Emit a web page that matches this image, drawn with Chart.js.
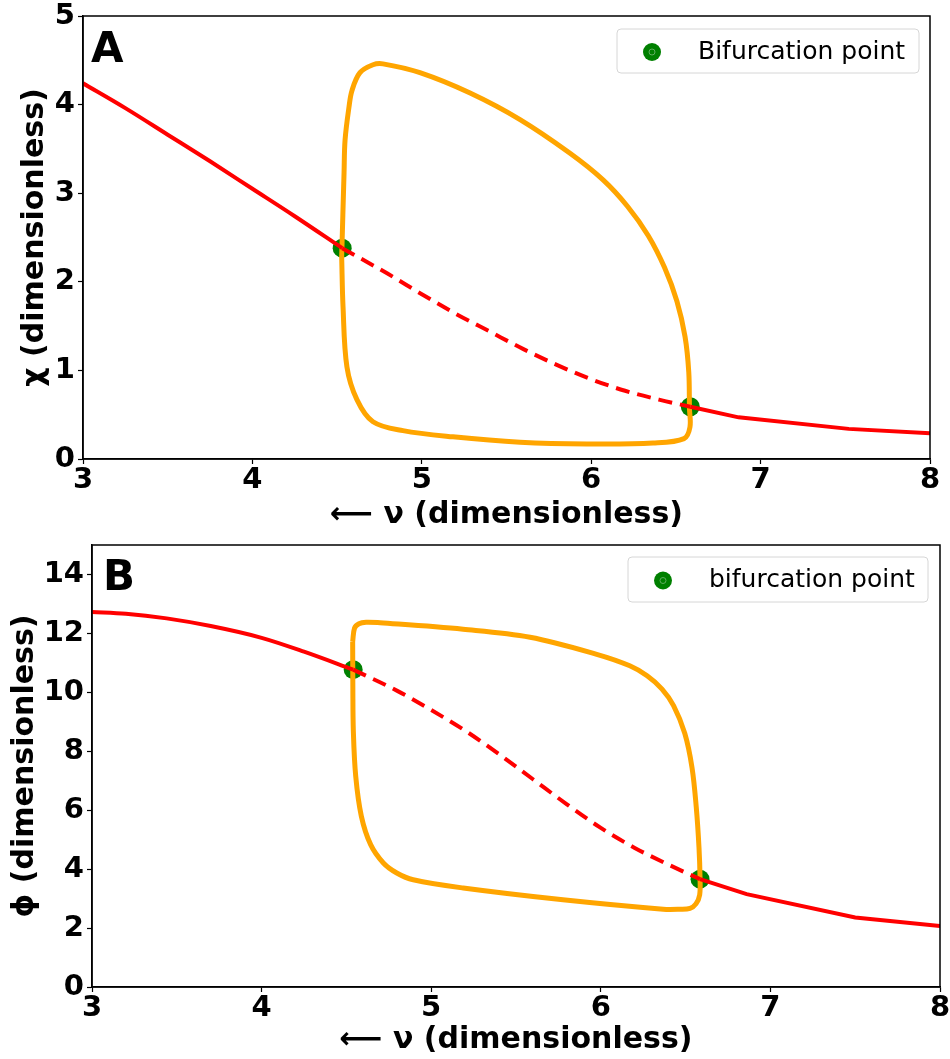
<!DOCTYPE html>
<html>
<head>
<meta charset="utf-8">
<script src="https://cdn.jsdelivr.net/npm/chart.js@4/dist/chart.umd.min.js"></script>
<style>
    html, body { margin: 0; padding: 0; background: #fff; }
    .panel { position: absolute; left: 0; width: 950px; }
    #panelA { top: 0; height: 535px; }
    #panelB { top: 535px; height: 524px; }
</style>
</head>
<body>
<div class="panel" id="panelA"><canvas id="chartA" width="950" height="535"></canvas></div>
<div class="panel" id="panelB"><canvas id="chartB" width="950" height="524"></canvas></div>
<script>
// ---- Panel A: chi vs nu ----
const chiStableLoX = [3.0, 3.25, 3.5, 3.75, 4.0, 4.25, 4.53];
const chiStableLoY = [4.24, 3.96, 3.66, 3.36, 3.05, 2.74, 2.38];
const chiUnstableX = [4.53, 4.8, 5.0, 5.2, 5.4, 5.6, 5.8, 6.0, 6.2, 6.4, 6.585];
const chiUnstableY = [2.38, 2.09, 1.86, 1.64, 1.44, 1.24, 1.06, 0.90, 0.77, 0.67, 0.59];
const chiStableHiX = [6.585, 6.87, 7.52, 8.0];
const chiStableHiY = [0.59, 0.47, 0.34, 0.29];
const chiCycleX = [4.527, 4.535, 4.558, 4.617, 4.712, 4.889, 5.184, 5.580, 5.975, 6.365, 6.548, 6.583, 6.580,
    6.576, 6.554, 6.506, 6.433, 6.337, 6.215, 6.070, 5.875, 5.580, 5.285, 4.989, 4.771, 4.712, 4.635, 4.588,
    4.570, 4.547, 4.541, 4.527];
const chiCycleY = [2.28, 1.72, 1.04, 0.67, 0.42, 0.32, 0.25, 0.19, 0.17, 0.18, 0.23, 0.36, 0.57,
    0.98, 1.38, 1.78, 2.16, 2.52, 2.85, 3.15, 3.45, 3.83, 4.13, 4.36, 4.46, 4.45, 4.36, 4.16,
    3.97, 3.60, 3.23, 2.28];
const chiBifX = [4.53, 6.585];
const chiBifY = [2.38, 0.59];

// ---- Panel B: phi vs nu ----
const phiStableLoX = [3.0, 3.2, 3.44, 3.7, 4.0, 4.25, 4.54];
const phiStableLoY = [12.73, 12.67, 12.51, 12.25, 11.85, 11.38, 10.77];
const phiUnstableX = [4.54, 4.8, 5.0, 5.2, 5.4, 5.6, 5.8, 6.0, 6.2, 6.4, 6.585];
const phiUnstableY = [10.77, 10.05, 9.40, 8.70, 7.90, 7.05, 6.20, 5.40, 4.72, 4.15, 3.66];
const phiStableHiX = [6.585, 6.86, 7.50, 8.0];
const phiStableHiY = [3.66, 3.15, 2.36, 2.07];
const phiCycleX = [4.537, 4.548, 4.574, 4.616, 4.698, 5.188, 5.583, 5.976, 6.171, 6.273, 6.361, 6.429, 6.495,
    6.538, 6.563, 6.579, 6.585, 6.583, 6.561, 6.526, 6.467, 6.368, 5.777, 5.189, 4.894, 4.797, 4.718, 4.643,
    4.588, 4.555, 4.541, 4.538, 4.537];
const phiCycleY = [11.72, 12.18, 12.33, 12.38, 12.36, 12.14, 11.87, 11.29, 10.90, 10.56, 10.11, 9.55, 8.61,
    7.44, 6.09, 4.73, 3.71, 3.13, 2.82, 2.67, 2.64, 2.64, 2.96, 3.36, 3.64, 3.87, 4.21, 4.83,
    5.80, 7.15, 8.68, 10.20, 11.72];
const phiBifX = [4.54, 6.585];
const phiBifY = [10.77, 3.66];

const xTicks = [3, 4, 5, 6, 7, 8];

const toPoints = (xs, ys) => xs.map((x, i) => ({ x: x, y: ys[i] }));

const FONT = "'DejaVu Sans', sans-serif";

// frame, panel letter and legend box (drawn like matplotlib)
const panelDecor = {
    id: 'panelDecor',
    afterDraw(chart, args, opts) {
        const { ctx, chartArea: a } = chart;
        ctx.save();

        // full box spines
        ctx.strokeStyle = '#000';
        ctx.lineWidth = 1.5;
        ctx.strokeRect(a.left, a.top, a.right - a.left, a.bottom - a.top);

        // panel letter
        ctx.fillStyle = '#000';
        ctx.font = `bold 42px ${FONT}`;
        ctx.textBaseline = 'alphabetic';
        ctx.textAlign = 'left';
        ctx.fillText(opts.letter, a.left + opts.letterDx, a.top + opts.letterDy);

        // legend
        const b = opts.legendBox;
        ctx.beginPath();
        ctx.roundRect(b.x, b.y, b.w, b.h, 4);
        ctx.fillStyle = 'rgba(255,255,255,0.8)';
        ctx.fill();
        ctx.strokeStyle = '#d6d6d6';
        ctx.lineWidth = 1;
        ctx.stroke();

        ctx.beginPath();
        ctx.arc(b.x + 35, b.y + b.h / 2 + 1, 9, 0, Math.PI * 2);
        ctx.fillStyle = 'green';
        ctx.fill();
        ctx.beginPath();
        ctx.arc(b.x + 35, b.y + b.h / 2 + 1, 3, 0, Math.PI * 2);
        ctx.strokeStyle = '#5fae5f';
        ctx.lineWidth = 1;
        ctx.stroke();

        ctx.fillStyle = '#000';
        ctx.font = `25px ${FONT}`;
        ctx.textBaseline = 'middle';
        ctx.fillText(opts.legendText, b.x + 81, b.y + b.h / 2 + 1);
        ctx.restore();
    }
};

function makeChart(canvasId, cfg) {
    const ctx = document.getElementById(canvasId).getContext('2d');
    const redLine = {
        borderColor: '#ff0000',
        borderWidth: 4,
        showLine: true,
        pointRadius: 0,
        cubicInterpolationMode: 'monotone',
        order: 0
    };
    return new Chart(ctx, {
        type: 'scatter',
        data: {
            datasets: [
                {
                    data: toPoints(cfg.bifX, cfg.bifY),
                    backgroundColor: 'green',
                    borderWidth: 0,
                    pointRadius: 9.5,
                    showLine: false,
                    order: 10
                },
                {
                    data: toPoints(cfg.cycleX, cfg.cycleY),
                    borderColor: '#ffa500',
                    borderWidth: 5,
                    showLine: true,
                    pointRadius: 0,
                    tension: 0.35,
                    order: 5
                },
                { ...redLine, data: toPoints(cfg.loX, cfg.loY) },
                { ...redLine, data: toPoints(cfg.unX, cfg.unY), borderDash: [14, 8] },
                { ...redLine, data: toPoints(cfg.hiX, cfg.hiY), cubicInterpolationMode: 'default', tension: 0 }
            ]
        },
        options: {
            responsive: false,
            animation: false,
            devicePixelRatio: 1,
            layout: { padding: cfg.padding },
            plugins: {
                legend: { display: false },
                tooltip: { enabled: false },
                panelDecor: cfg.decor
            },
            scales: {
                x: {
                    type: 'linear',
                    min: 3,
                    max: 8,
                    afterBuildTicks: s => { s.ticks = xTicks.map(v => ({ value: v })); },
                    afterFit: s => { s.height = cfg.xHeight; s.paddingLeft = 0; s.paddingRight = 0; },
                    grid: { drawOnChartArea: false, drawTicks: true, tickLength: 5, tickColor: '#000', tickWidth: 1.2 },
                    border: { display: true, color: '#000', width: 1.5 },
                    ticks: { color: '#000', padding: 2, font: { family: FONT, size: 29, weight: 'bold', lineHeight: 1 } },
                    title: {
                        display: true,
                        text: '⟵ ν (dimensionless)',
                        color: '#000',
                        font: { family: FONT, size: 30, weight: 'bold' },
                        padding: { top: 0, bottom: cfg.xTitlePad }
                    }
                },
                y: {
                    type: 'linear',
                    min: 0,
                    max: cfg.yMax,
                    afterBuildTicks: s => { s.ticks = cfg.yTicks.map(v => ({ value: v })); },
                    afterFit: s => { s.width = cfg.yWidth; s.paddingTop = 0; s.paddingBottom = 0; },
                    grid: { drawOnChartArea: false, drawTicks: true, tickLength: 5, tickColor: '#000', tickWidth: 1.2 },
                    border: { display: true, color: '#000', width: 1.5 },
                    ticks: { color: '#000', padding: 3, font: { family: FONT, size: 29, weight: 'bold' } },
                    title: {
                        display: true,
                        text: cfg.yTitle,
                        color: '#000',
                        font: { family: FONT, size: 30, weight: 'bold' },
                        padding: { top: cfg.yTitlePad, bottom: 0 }
                    }
                }
            }
        },
        plugins: [panelDecor]
    });
}

makeChart('chartA', {
    loX: chiStableLoX, loY: chiStableLoY,
    unX: chiUnstableX, unY: chiUnstableY,
    hiX: chiStableHiX, hiY: chiStableHiY,
    cycleX: chiCycleX, cycleY: chiCycleY,
    bifX: chiBifX, bifY: chiBifY,
    yMax: 5,
    yTicks: [0, 1, 2, 3, 4, 5],
    yTitle: 'χ (dimensionless)',
    padding: { left: 0, right: 20, top: 16, bottom: 0 },
    xHeight: 76, yWidth: 83, xTitlePad: 2, yTitlePad: 17,
    decor: {
        letter: 'A', letterDx: 8, letterDy: 46,
        legendText: 'Bifurcation point',
        legendBox: { x: 617, y: 29, w: 302, h: 44 }
    }
});

makeChart('chartB', {
    loX: phiStableLoX, loY: phiStableLoY,
    unX: phiUnstableX, unY: phiUnstableY,
    hiX: phiStableHiX, hiY: phiStableHiY,
    cycleX: phiCycleX, cycleY: phiCycleY,
    bifX: phiBifX, bifY: phiBifY,
    yMax: 15,
    yTicks: [0, 2, 4, 6, 8, 10, 12, 14],
    yTitle: 'ϕ (dimensionless)',
    padding: { left: 0, right: 10, top: 10, bottom: 0 },
    xHeight: 72, yWidth: 92, xTitlePad: 1, yTitlePad: 7,
    decor: {
        letter: 'B', letterDx: 11, letterDy: 45,
        legendText: 'bifurcation point',
        legendBox: { x: 628, y: 22, w: 300, h: 45 }
    }
});
</script>
</body>
</html>
